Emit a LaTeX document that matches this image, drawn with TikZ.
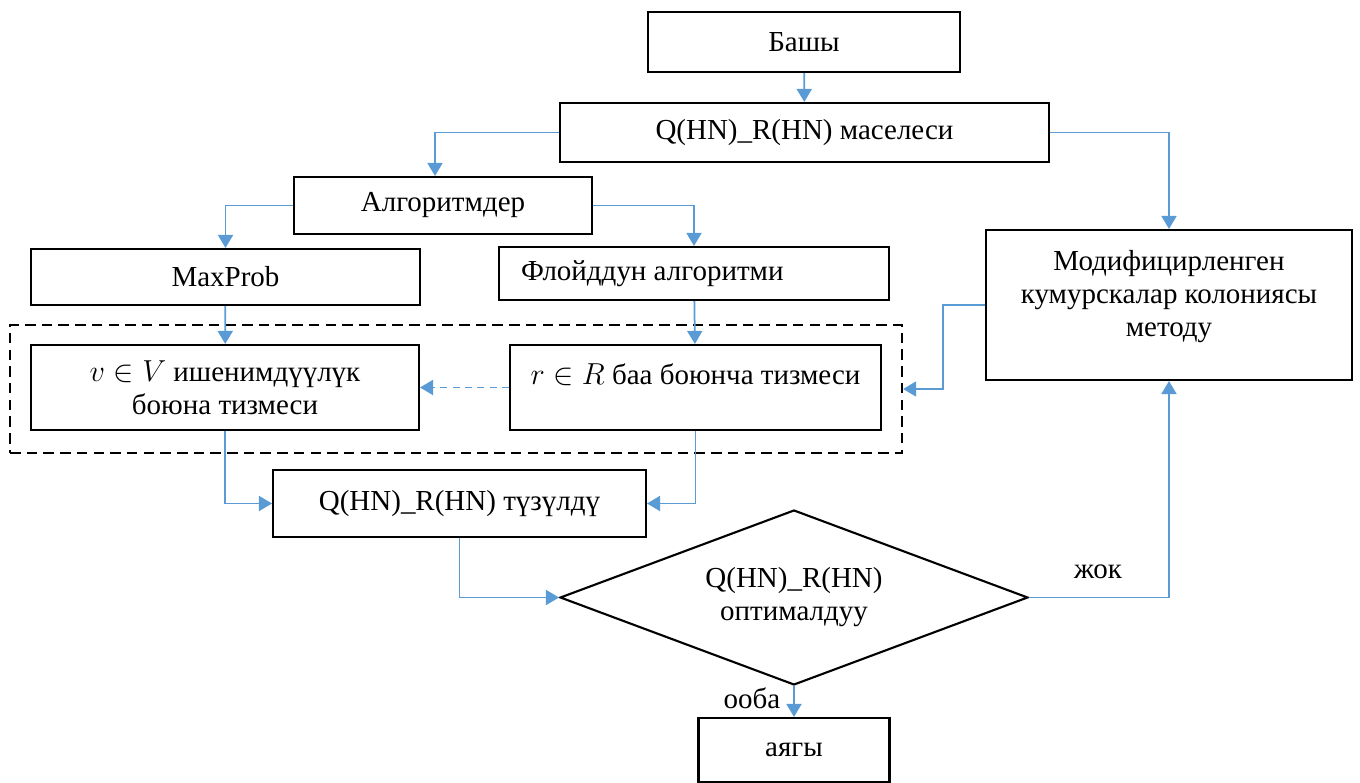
\documentclass[tikz,border=0pt]{standalone}
\usepackage{fontspec}
\setmainfont{Liberation Serif}
\usepackage{tikz}
\usetikzlibrary{arrows.meta,shapes.geometric}
\definecolor{flowblue}{RGB}{91, 155, 213}

\begin{document}
\begin{tikzpicture}[x=0.02cm, y=-0.02cm,
    box/.style={draw, line width=1.2pt, inner sep=2pt, align=center,
                font=\fontsize{16.5}{18.8}\selectfont},
    flow/.style={flowblue, line width=1pt,
                 -{Triangle[length=0.26cm, width=0.3cm]}},
    lbl/.style={font=\fontsize{16.5}{18.8}\selectfont}]
    \useasboundingbox (0,0) rectangle (1360,783);

    %% top of the chart
    \node[box, minimum width=6.24cm, minimum height=1.2cm] (start) at (804,42) {Башы};
    \node[box, minimum width=9.78cm, minimum height=1.18cm] (problem) at (804.5,132.5)
      {Q(HN)\_R(HN) маселеси};
    \node[box, minimum width=5.96cm, minimum height=1.14cm] (algos) at (443,205.5)
      {Алгоритмдер};
    \node[box, minimum width=7.78cm, minimum height=1.12cm] (maxprob) at (225.5,277)
      {MaxProb};
    \node[box, minimum width=7.8cm, minimum height=1.06cm, text width=6.92cm,
          inner xsep=0.44cm, align=flush left] (floyd) at (694,273.5) {Флойддун алгоритми};
    \node[box, minimum width=7.32cm, minimum height=3cm] (antcol) at (1169,305)
      {Модифицирленген\\кумурскалар колониясы\\методу\\[-6pt]\mbox{}};

    %% dashed group of the two lists
    \node[draw, line width=1.4pt, dash pattern=on 6pt off 3.5pt,
          minimum width=17.84cm, minimum height=2.56cm] (group) at (456,389) {};
    \node[box, minimum width=7.76cm, minimum height=1.7cm] (vlist) at (225,387.5)
      {$v\in V$ ишенимдүүлүк\\боюна тизмеси};
    \node[box, minimum width=7.42cm, minimum height=1.7cm] (rlist) at (695.5,387.5)
      {$r\in R$ баа боюнча тизмеси\\[-4pt]\mbox{}};

    %% result and check
    \node[box, minimum width=7.46cm, minimum height=1.34cm] (built) at (459.5,503.5)
      {Q(HN)\_R(HN) түзүлдү};
    \node[box, diamond, aspect=2.67, inner sep=0pt, minimum width=9.36cm,
          minimum height=3.5cm] (optimal) at (794,597.5) {Q(HN)\_R(HN)\\оптималдуу};
    \node[box, minimum width=3.82cm, minimum height=1.28cm] (finish) at (794,750)
      {аягы};

    %% connectors
    \draw[flow] (start) -- (problem);
    \draw[flow] (problem.west) -| ([xshift=-0.16cm]algos.north);
    \draw[flow] (problem.east) -| (antcol.north);
    \draw[flow] (algos.west) -| (maxprob.north);
    \draw[flow] (algos.east) -| (floyd.north);
    \draw[flow] (maxprob) -- (vlist);
    \draw[flow] (floyd) -- (rlist);
    \draw[flow, dash pattern=on 4pt off 3pt] (rlist.west) -- (vlist.east);
    \draw[flow] (antcol.west) -- ++(-42,0) |- (group.east);
    \draw[flow] (vlist.south) |- (built.west);
    \draw[flow] (rlist.south) |- (built.east);
    \draw[flow] (built.south) |- (optimal.west);
    \draw[flow] (optimal.east) -| (antcol.south);
    \draw[flow] (optimal.south) -- (finish.north);
    \node[lbl] (no) at (1098,572) {жок};
    \node[lbl] (yes) at (752,698) {ооба};
  \end{tikzpicture}
\end{document}
